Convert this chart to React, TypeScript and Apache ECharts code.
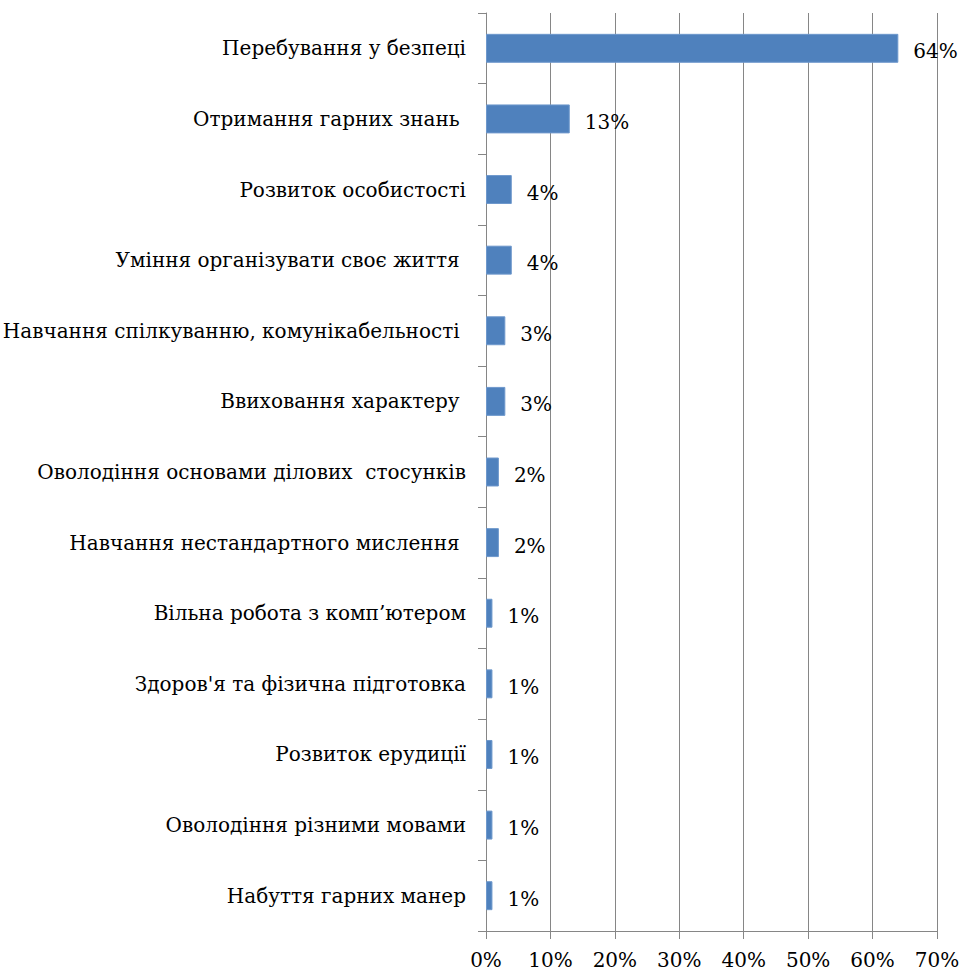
import React, { useEffect, useRef } from "react";
import * as echarts from "echarts";

const categories: string[] = [
  "Перебування у безпеці",
  "Отримання гарних знань ",
  "Розвиток особистості",
  "Уміння організувати своє життя ",
  "Навчання спілкуванню, комунікабельності ",
  "Ввиховання характеру ",
  "Оволодіння основами ділових  стосунків",
  "Навчання нестандартного мислення ",
  "Вільна робота з комп’ютером",
  "Здоров'я та фізична підготовка",
  "Розвиток ерудиції",
  "Оволодіння різними мовами",
  "Набуття гарних манер",
];

const values: number[] = [64, 13, 4, 4, 3, 3, 2, 2, 1, 1, 1, 1, 1];

const xTicks = { min: 0, max: 70, interval: 10 };

const FONT = "DejaVu Serif";

export default function App() {
  const ref = useRef<HTMLDivElement>(null);
  useEffect(() => {
    if (!ref.current) return;
    const chart = echarts.init(ref.current, undefined, { renderer: "svg" });
    chart.setOption({
      animation: false,
      backgroundColor: "#ffffff",
      grid: {
        left: 486,
        right: 34,
        top: 13,
        bottom: 42,
        containLabel: false,
        outerBoundsMode: "none",
      },
      xAxis: {
        type: "value",
        min: xTicks.min,
        max: xTicks.max,
        interval: xTicks.interval,
        axisLine: { show: true, lineStyle: { color: "#868686", width: 1 } },
        axisTick: { show: true, length: 8, lineStyle: { color: "#868686" } },
        splitLine: { show: true, lineStyle: { color: "#868686", width: 1 } },
        axisLabel: {
          formatter: "{value}%",
          color: "#000",
          fontFamily: FONT,
          fontSize: 20,
          margin: 19,
        },
      },
      yAxis: {
        type: "category",
        data: categories,
        inverse: true,
        axisLine: { show: true, lineStyle: { color: "#868686", width: 1 } },
        axisTick: { show: true, length: 8, lineStyle: { color: "#868686" } },
        splitLine: { show: false },
        axisLabel: {
          color: "#000",
          fontFamily: FONT,
          fontSize: 20,
          margin: 20,
          interval: 0,
        },
      },
      series: [
        {
          type: "bar",
          data: values,
          barCategoryGap: "59%",
          itemStyle: { color: "#4F81BD", borderColor: "#6E98CC", borderWidth: 1 },
          label: {
            show: true,
            position: "right",
            distance: 15,
            offset: [0, 3],
            formatter: "{c}%",
            color: "#000",
            fontFamily: FONT,
            fontSize: 20,
          },
        },
      ],
    });
    return () => chart.dispose();
  }, []);
  return (
    <div
      ref={ref}
      style={{ position: "fixed", left: 0, top: 0, width: 971, height: 973, background: "#fff" }}
    />
  );
}
